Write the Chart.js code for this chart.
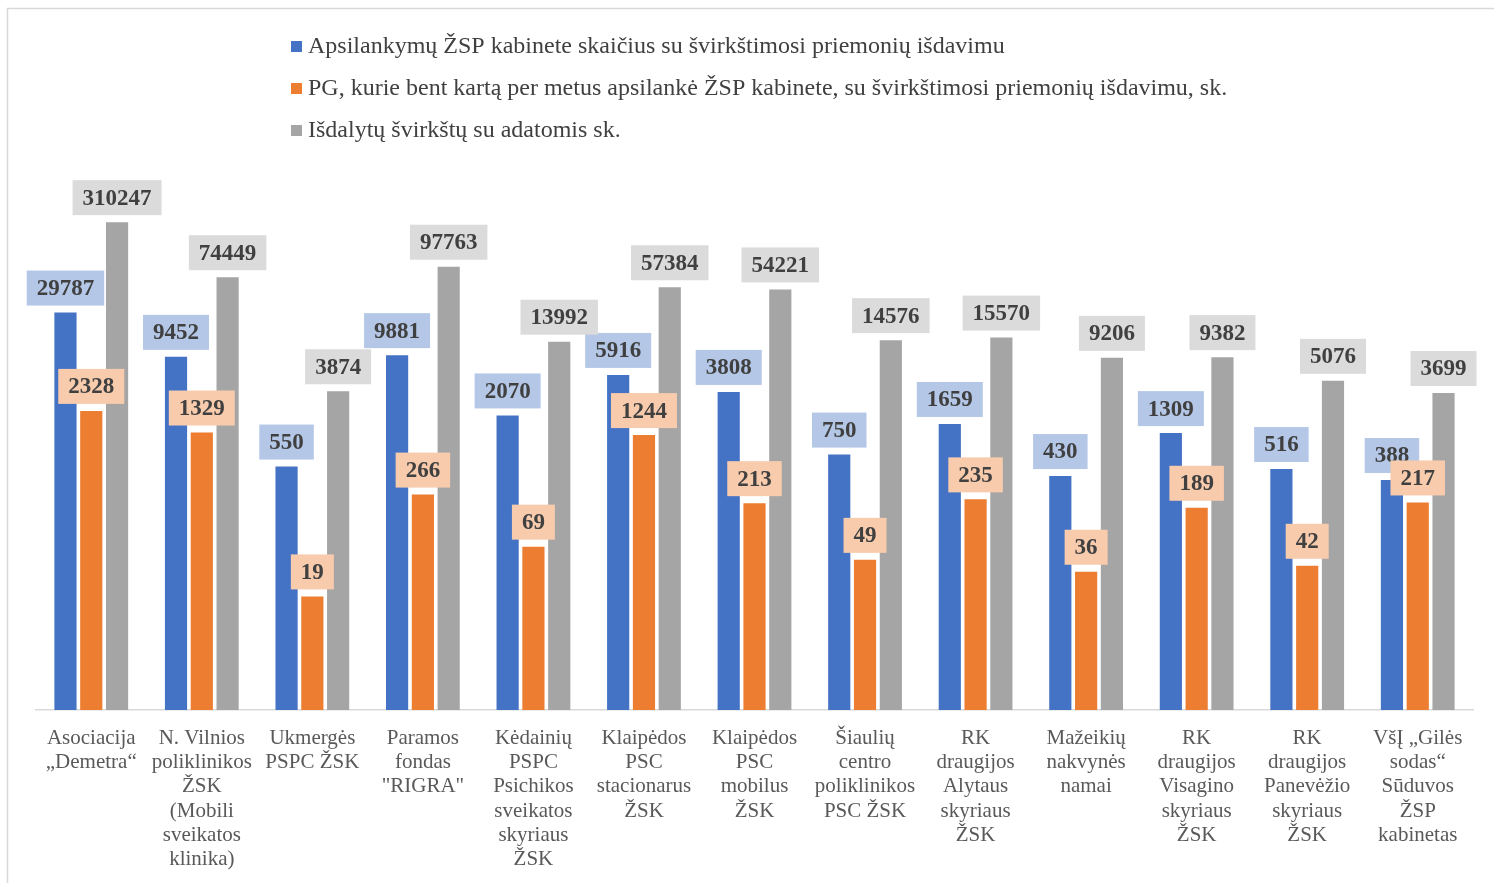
<!DOCTYPE html>
<html>
<head>
<meta charset="utf-8">
<script src="https://cdn.jsdelivr.net/npm/chart.js@4.4.0/dist/chart.umd.min.js"></script>
<style>
  html, body { margin: 0; padding: 0; background: #fff; overflow: hidden; }
  #wrap { width: 1494px; height: 883px; position: relative; }
</style>
</head>
<body>
<div id="wrap"><canvas id="chart" width="1494" height="883"></canvas></div>
<script>
// Categories (multi-line as in the original)
const categories = [
    ["Asociacija", "„Demetra“"],
    ["N. Vilnios", "poliklinikos", "ŽSK", "(Mobili", "sveikatos", "klinika)"],
    ["Ukmergės", "PSPC ŽSK"],
    ["Paramos", "fondas", "\"RIGRA\""],
    ["Kėdainių", "PSPC", "Psichikos", "sveikatos", "skyriaus", "ŽSK"],
    ["Klaipėdos", "PSC", "stacionarus", "ŽSK"],
    ["Klaipėdos", "PSC", "mobilus", "ŽSK"],
    ["Šiaulių", "centro", "poliklinikos", "PSC ŽSK"],
    ["RK", "draugijos", "Alytaus", "skyriaus", "ŽSK"],
    ["Mažeikių", "nakvynės", "namai"],
    ["RK", "draugijos", "Visagino", "skyriaus", "ŽSK"],
    ["RK", "draugijos", "Panevėžio", "skyriaus", "ŽSK"],
    ["VšĮ „Gilės", "sodas“", "Sūduvos", "ŽSP", "kabinetas"]
];

const seriesNames = [
    "Apsilankymų ŽSP kabinete skaičius su švirkštimosi priemonių išdavimu",
    "PG, kurie bent kartą per metus apsilankė ŽSP kabinete, su švirkštimosi priemonių išdavimu, sk.",
    "Išdalytų švirkštų su adatomis sk."
];

const visits = [29787, 9452, 550, 9881, 2070, 5916, 3808, 750, 1659, 430, 1309, 516, 388];
const clients = [2328, 1329, 19, 266, 69, 1244, 213, 49, 235, 36, 189, 42, 217];
const syringes = [310247, 74449, 3874, 97763, 13992, 57384, 54221, 14576, 15570, 9206, 9382, 5076, 3699];

const barColors = ["#4472c4", "#ed7d31", "#a5a5a5"];
const labelBgColors = ["#b4c7e7", "#f8cbad", "#dbdbdb"];

const serif = "'Liberation Serif', 'Times New Roman', serif";

// Border around the chart
const frame = {
    id: "frame",
    beforeDraw(chart) {
        const ctx = chart.ctx;
        ctx.save();
        ctx.fillStyle = "#fff";
        ctx.fillRect(0, 0, chart.width, chart.height);
        ctx.strokeStyle = "#d9d9d9";
        ctx.lineWidth = 1.5;
        ctx.strokeRect(7.5, 8.5, chart.width + 20, chart.height + 20);
        ctx.restore();
    }
};

// Legend drawn as a left aligned block
const blockLegend = {
    id: "blockLegend",
    afterDraw(chart) {
        const ctx = chart.ctx;
        ctx.save();
        ctx.font = "24px " + serif;
        ctx.textBaseline = "middle";
        chart.data.datasets.forEach((ds, i) => {
            const y = 47 + i * 42;
            ctx.fillStyle = ds.backgroundColor;
            ctx.fillRect(291, y - 6, 11, 11);
            ctx.fillStyle = "#404040";
            ctx.fillText(ds.label, 308, y);
        });
        ctx.restore();
    }
};

// Value labels with coloured boxes above the bars
const valueLabels = {
    id: "valueLabels",
    afterDatasetsDraw(chart) {
        const ctx = chart.ctx;
        ctx.save();
        ctx.font = "bold 23px " + serif;
        ctx.textAlign = "center";
        ctx.textBaseline = "middle";
        chart.data.datasets.forEach((ds, i) => {
            const meta = chart.getDatasetMeta(i);
            meta.data.forEach((bar, j) => {
                const text = String(ds.data[j]);
                const w = ctx.measureText(text).width + 20;
                const h = 35;
                const bottom = bar.y - 7;
                ctx.fillStyle = labelBgColors[i];
                ctx.fillRect(bar.x - w / 2, bottom - h, w, h);
                ctx.fillStyle = "#404040";
                ctx.fillText(text, bar.x, bottom - h / 2 + 1);
            });
        });
        ctx.restore();
    }
};

const datasets = [visits, clients, syringes].map((d, i) => ({
    label: seriesNames[i],
    data: d,
    backgroundColor: barColors[i],
    barPercentage: 0.86,
    categoryPercentage: 0.7
}));

new Chart(document.getElementById("chart"), {
    type: "bar",
    data: { labels: categories, datasets: datasets },
    options: {
        responsive: false,
        animation: false,
        layout: { padding: { top: 177, left: 36, right: 21, bottom: 0 } },
        plugins: {
            legend: { display: false },
            tooltip: { enabled: false }
        },
        scales: {
            x: {
                grid: { display: false },
                border: { display: true, color: "#d9d9d9", width: 1.5 },
                ticks: {
                    autoSkip: false,
                    maxRotation: 0,
                    minRotation: 0,
                    padding: 8,
                    color: "#595959",
                    font: { family: serif, size: 21, lineHeight: 1.16 }
                },
                afterFit(scale) { scale.height = 173; }
            },
            y: {
                type: "logarithmic",
                min: 1,
                max: 1000000,
                display: false
            }
        }
    },
    plugins: [frame, valueLabels, blockLegend]
});
</script>
</body>
</html>
